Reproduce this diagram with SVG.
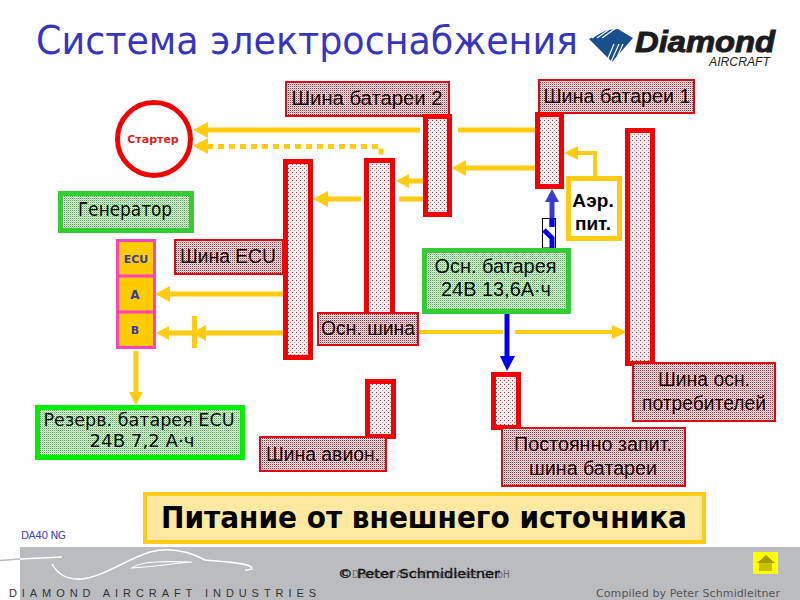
<svg xmlns="http://www.w3.org/2000/svg" width="800" height="600" viewBox="0 0 800 600">
<defs>
<pattern id="pr" width="2" height="2" patternUnits="userSpaceOnUse"><rect width="2" height="2" fill="#fbeaea"/><rect width="1" height="1" fill="#b02a38"/><rect x="1" y="1" width="1" height="1" fill="#f2b4b8"/></pattern>
<pattern id="pb" width="4" height="4" patternUnits="userSpaceOnUse"><rect width="4" height="4" fill="#fdf2f2"/><rect width="1" height="1" fill="#a83040"/><rect x="2" y="2" width="1" height="1" fill="#e07a88"/></pattern>
<pattern id="pg" width="2" height="2" patternUnits="userSpaceOnUse"><rect width="2" height="2" fill="#eefbee"/><rect width="1" height="1" fill="#43b343"/><rect x="1" y="1" width="1" height="1" fill="#a8e4a8"/></pattern>
</defs>
<style>
.lab{fill:url(#pr);stroke:#dd0a14;stroke-width:2}
.bar{fill:url(#pb);stroke:#f40000;stroke-width:5}
.grn{fill:url(#pg);stroke:#33cc33;stroke-width:5}
.t{font-family:"Liberation Sans",Arial,sans-serif;font-size:20px;fill:#000;text-anchor:middle}
.v{font-family:"DejaVu Sans",Verdana,sans-serif;fill:#000;text-anchor:middle}
.y{fill:none;stroke:#ffcc11;stroke-width:5}
.yf{fill:#ffcc11}
.ecu{font-family:"DejaVu Sans",Verdana,sans-serif;font-weight:bold;font-size:11px;fill:#3a3aa0;text-anchor:middle}
</style>
<rect width="800" height="600" fill="#fff"/>
<text id="title" x="36" y="54" font-family="DejaVu Sans, Verdana, sans-serif" font-size="39" fill="#3636bd" textLength="542" lengthAdjust="spacingAndGlyphs">Система электроснабжения</text>
<g id="logo">
<path d="M589 39L607 30L618 29L633 38L612 62Z" fill="#17508c"/>
<g stroke="#fff" stroke-width="1.2"><path d="M592 38L606 28M597 38L611 28M602 38L616 28"/><path d="M606 63L614 44M610 64L619 44M614 64L623 44"/></g>
<text x="635" y="52" font-family="Liberation Sans, Arial, sans-serif" font-weight="bold" font-style="italic" font-size="30" fill="#1c1c20" stroke="#1c1c20" stroke-width="1" textLength="140" lengthAdjust="spacingAndGlyphs">Diamond</text>
<text x="709" y="66" font-family="Liberation Sans, Arial, sans-serif" font-style="italic" font-size="12" fill="#222" textLength="61" lengthAdjust="spacingAndGlyphs">AIRCRAFT</text>
</g>
<g id="connectors">
<path class="y" d="M535 130H458M420 130H205"/><path class="yf" d="M193 130L208 122V138Z"/>
<path class="y" d="M207 146.500H381V160" stroke-dasharray="6 5"/><path class="yf" d="M193 146L208 138V154Z"/>
<path class="y" d="M535 168H464"/><path class="yf" d="M452 168L466 160V176Z"/>
<path class="y" d="M423 181H408"/><path class="yf" d="M396 181L409 174V188Z"/>
<path class="y" d="M425 199H399M361 199H325"/><path class="yf" d="M313 199L328 191V207Z"/>
<path class="y" d="M283 294H168"/><path class="yf" d="M155 294L170 286V302Z"/>
<path class="y" d="M283 333H168"/><path class="yf" d="M156 333L169 326V340Z"/><path class="yf" d="M192 333L206 325V341Z"/><rect class="yf" x="192" y="316" width="5" height="32"/>
<path class="y" d="M136 351V393"/><path class="yf" d="M136 405L129 392H143Z"/>
<path class="y" style="stroke-width:4" d="M419 332H503M515 332H614"/><path class="yf" d="M627 332L612 325V339Z"/>
<path fill="none" stroke="#0000ee" stroke-width="5" d="M507 314V358"/><path fill="#0000ee" d="M507 371L500 356H515Z"/>
<path class="y" style="stroke-width:4" d="M595 176V153H576"/><path class="yf" d="M564 153L578 146V160Z"/>
<rect x="542.500" y="218.500" width="13" height="29.500" fill="#fff" stroke="#000" stroke-width="1"/>
<path fill="none" stroke="#3a3acc" stroke-width="5" d="M552 227V199"/><path fill="#3a3acc" d="M552 189L545 202H559Z"/>
<path fill="none" stroke="#0000ee" stroke-width="5" d="M552 218V227M544 230L552 238V248"/>
</g>
<g id="starter"><circle cx="154" cy="139" r="36.500" fill="#fff" stroke="#f40000" stroke-width="5"/><text x="153" y="143" font-family="DejaVu Sans, Verdana, sans-serif" font-weight="bold" font-size="11" fill="#dd2222" text-anchor="middle">Стартер</text></g>
<g id="bus-batt2-label"><rect class="lab" x="286" y="82" width="163" height="34"/><text class="t" x="367" y="105" textLength="151" lengthAdjust="spacingAndGlyphs">Шина батареи 2</text></g>
<g id="bus-batt1-label"><rect class="lab" x="539" y="80" width="155" height="33"/><text class="t" x="617" y="103" textLength="147" lengthAdjust="spacingAndGlyphs">Шина батареи 1</text></g>
<g id="bus-batt2"><rect class="bar" x="425.500" y="116.500" width="24" height="98"/></g>
<g id="bus-batt1"><rect class="bar" x="537.500" y="114.500" width="24" height="72"/></g>
<g id="bus-consumers"><rect class="bar" x="627.500" y="130.500" width="25" height="233"/></g>
<g id="bus-main"><rect class="bar" x="366.500" y="160.500" width="26" height="154"/></g>
<g id="bus-ecu"><rect class="bar" x="285.500" y="161.500" width="25" height="196"/></g>
<g id="bus-avionics"><rect class="bar" x="367.500" y="381.500" width="26" height="55"/></g>
<g id="bus-hot"><rect class="bar" x="493.500" y="374.500" width="25" height="53"/></g>
<g id="generator"><rect class="grn" x="60.500" y="193.500" width="131" height="37"/><text class="v" x="125" y="216" font-size="20" textLength="94" lengthAdjust="spacingAndGlyphs">Генератор</text></g>
<g id="ecu-stack"><rect x="117.500" y="240.500" width="37" height="107" fill="#ffcc00" stroke="#ff44bb" stroke-width="3"/><path d="M117 276H155M117 312H155" stroke="#ff44bb" stroke-width="3"/><text class="ecu" x="136" y="263">ECU</text><text class="ecu" x="135" y="299" style="font-size:12px">A</text><text class="ecu" x="135" y="334">B</text></g>
<g id="ecu-label"><rect class="lab" x="175" y="240" width="108" height="34"/><text class="t" x="228" y="263" textLength="96" lengthAdjust="spacingAndGlyphs">Шина ECU</text></g>
<g id="main-label"><rect class="lab" x="318" y="313" width="100" height="32"/><text class="t" x="368" y="335" textLength="94" lengthAdjust="spacingAndGlyphs">Осн. шина</text></g>
<g id="main-battery"><rect class="grn" x="424.500" y="250.500" width="144" height="61"/><text class="t" x="495.500" y="273" textLength="122" lengthAdjust="spacingAndGlyphs">Осн. батарея</text><text class="t" x="496" y="296" textLength="110" lengthAdjust="spacingAndGlyphs">24В 13,6А·ч</text></g>
<g id="air-power"><rect x="568.500" y="178.500" width="51" height="60" fill="#fff" stroke="#ffcc11" stroke-width="5"/><text x="593" y="207" font-family="Liberation Sans, Arial, sans-serif" font-weight="bold" font-size="19" fill="#000" text-anchor="middle">Аэр.</text><text x="593" y="230" font-family="Liberation Sans, Arial, sans-serif" font-weight="bold" font-size="19" fill="#000" text-anchor="middle">пит.</text></g>
<g id="ecu-battery"><rect x="37.500" y="407.500" width="205" height="50" fill="url(#pg)" stroke="#00ee00" stroke-width="5"/><text class="v" x="139" y="426" font-size="17" textLength="191" lengthAdjust="spacingAndGlyphs">Резерв. батарея ECU</text><text class="v" x="142" y="447" font-size="17" textLength="105" lengthAdjust="spacingAndGlyphs">24В 7,2 А·ч</text></g>
<g id="avionics-label"><rect class="lab" x="260" y="437" width="126" height="34"/><text class="t" x="323" y="461" textLength="114" lengthAdjust="spacingAndGlyphs">Шина авион.</text></g>
<g id="consumers-label"><rect class="lab" x="633" y="363" width="142" height="58"/><text class="t" x="704" y="386" textLength="92" lengthAdjust="spacingAndGlyphs">Шина осн.</text><text class="t" x="704" y="410" textLength="124" lengthAdjust="spacingAndGlyphs">потребителей</text></g>
<g id="hot-label"><rect class="lab" x="502" y="428" width="183" height="58"/><text class="t" x="593" y="451" textLength="158" lengthAdjust="spacingAndGlyphs">Постоянно запит.</text><text class="t" x="593" y="475" textLength="128" lengthAdjust="spacingAndGlyphs">шина батареи</text></g>
<g id="status"><rect x="145" y="494" width="559" height="48" fill="#ffe9a0" stroke="#ffcc1a" stroke-width="4"/><text x="424" y="528" font-family="DejaVu Sans, Verdana, sans-serif" font-weight="bold" font-size="30" fill="#000" text-anchor="middle" textLength="526" lengthAdjust="spacingAndGlyphs">Питание от внешнего источника</text></g>
<g id="footer">
<text x="21" y="539" font-family="DejaVu Sans, Verdana, sans-serif" font-size="10.500" fill="#4444bb" textLength="45" lengthAdjust="spacing">DA40 NG</text>
<rect x="20" y="547" width="780" height="53" fill="#babcc0"/>
<path d="M0 560.500L20 559" stroke="#babcc0" stroke-width="1.500" fill="none"/>
<path d="M20 559L62 557" stroke="#fff" stroke-width="1.500" fill="none"/>
<path d="M52 564C58 575 68 580 82 579C105 576 125 560 150 552C170 547 190 552 205 560C225 562 250 563 252 568C252 570 248 570 245 570" stroke="#fff" stroke-width="1.500" fill="none"/>
<path d="M132 568C140 561 165 561 192 562C170 564 150 567 132 568Z" stroke="#fff" stroke-width="1.200" fill="none"/>
<text x="9" y="597" font-family="Liberation Sans, Arial, sans-serif" font-size="11" fill="#333" textLength="307" lengthAdjust="spacing">DIAMOND AIRCRAFT INDUSTRIES</text>
<text x="340" y="578" font-family="DejaVu Sans, Verdana, sans-serif" font-size="10" fill="#666" textLength="170" lengthAdjust="spacingAndGlyphs">© Diamond Aircraft Industries GmbH</text>
<text x="338" y="578" font-family="DejaVu Sans, Verdana, sans-serif" font-size="13" fill="#111" stroke="#111" stroke-width="0.300" textLength="162" lengthAdjust="spacingAndGlyphs">© Peter Schmidleitner</text>
<text x="596" y="597" font-family="DejaVu Sans, Verdana, sans-serif" font-size="11" fill="#555" textLength="184" lengthAdjust="spacing">Compiled by Peter Schmidleitner</text>
<rect x="753" y="552" width="25" height="22" fill="#ffff00"/>
<rect x="759" y="563" width="13" height="8" fill="#c8c000"/>
<path d="M766 555L757 563H775Z" fill="#a89a00"/>
</g>
</svg>
